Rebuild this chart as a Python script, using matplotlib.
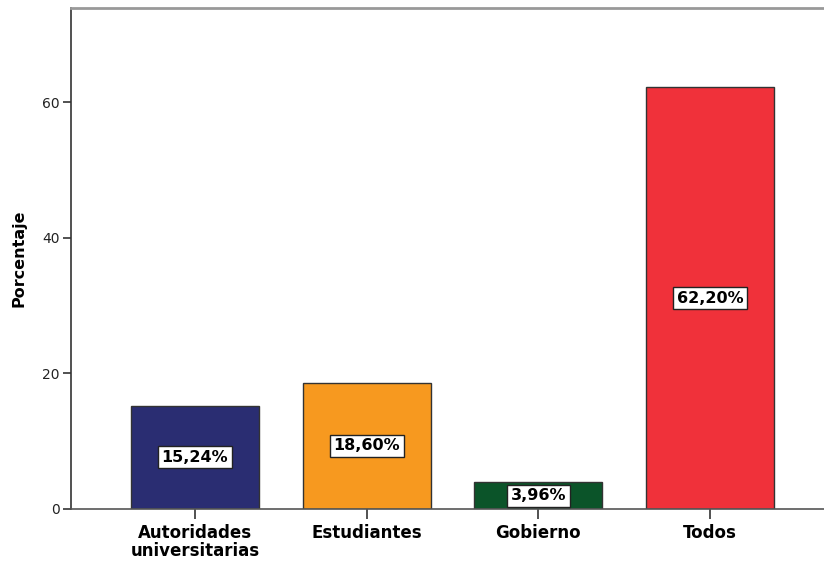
import matplotlib
matplotlib.use("Agg")
import matplotlib.pyplot as plt

categories = ["Autoridades\nuniversitarias", "Estudiantes", "Gobierno", "Todos"]
values = [15.24, 18.60, 3.96, 62.20]
labels = ["15,24%", "18,60%", "3,96%", "62,20%"]
colors = ["#2a2d72", "#f7991f", "#0b5429", "#f0313a"]
yticks = [0, 20, 40, 60]

plt.rcParams['font.family'] = ['DejaVu Sans']
fig = plt.figure(figsize=(8.24, 5.66), dpi=100)
ax = fig.add_axes([71/824, 1-509/566, 1-71/824, (509-8)/566])

x = list(range(len(categories)))
ax.bar(x, values, width=0.745, color=colors, edgecolor="#333333", linewidth=1.0, zorder=2)
for xi, v, lab in zip(x, values, labels):
    ax.text(xi, v/2, lab, ha="center", va="center", fontsize=11.5, fontweight="bold",
            bbox=dict(boxstyle="square,pad=0.22", facecolor="white", edgecolor="#222222", linewidth=1.0),
            zorder=3)

ax.set_xlim(-0.722, 3.663)
ax.set_ylim(0, 73.9)
ax.set_xticks(x)
ax.set_xticklabels(categories, fontsize=12, fontweight="bold", linespacing=0.95)
ax.set_yticks(yticks)
ax.set_yticklabels([str(t) for t in yticks], fontsize=10, color="#222222")
ax.set_ylabel("Porcentaje", fontsize=11.5, fontweight="bold", labelpad=11)
ax.tick_params(axis="y", length=6, width=1.2, color="#333333", pad=2)
ax.tick_params(axis="x", length=7, width=1.2, color="#333333", pad=4)
ax.spines["right"].set_visible(False)
ax.spines["top"].set_color("#999999")
ax.spines["top"].set_linewidth(2)
ax.spines["left"].set_color("#333333")
ax.spines["left"].set_linewidth(1.2)
ax.spines["bottom"].set_color("#555555")
ax.spines["bottom"].set_linewidth(1.2)

fig.savefig("out.png", dpi=100)
